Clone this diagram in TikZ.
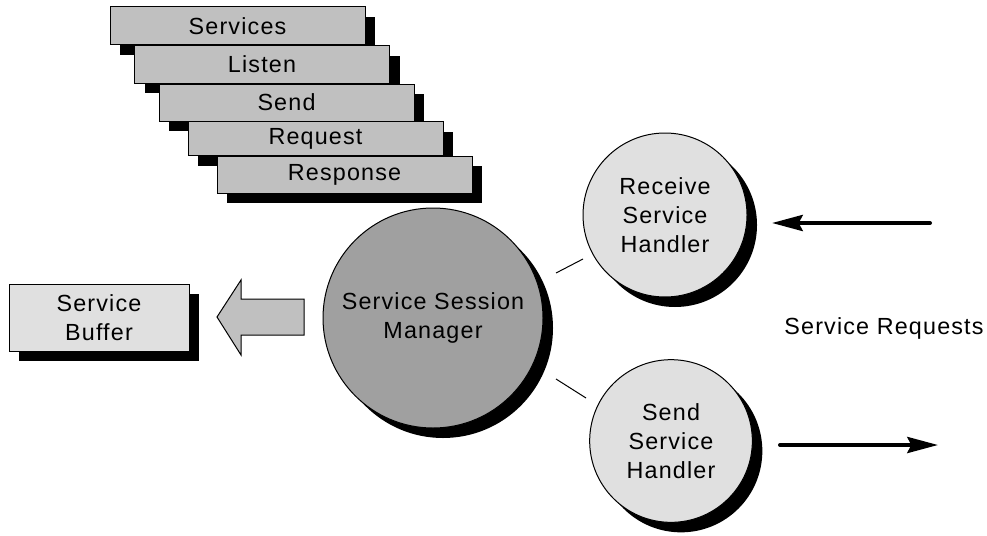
\documentclass[tikz,border=0pt]{standalone}
\usepackage{fontspec}
\setmainfont{Liberation Sans}[LetterSpace=5]
\usetikzlibrary{shadows,arrows.meta}
\definecolor{boxgray}{HTML}{C0C0C0}
\definecolor{lightgray2}{HTML}{E0E0E0}
\definecolor{darkgray2}{HTML}{A0A0A0}
\newcommand\dlabelfont{\fontsize{17.5}{21.75}\selectfont}
\begin{document}
\begin{tikzpicture}[x=0.75pt,y=-0.75pt,
  shad/.style={drop shadow={shadow xshift=7.5pt,shadow yshift=-7.5pt,fill=black,opacity=1}},
  stackbox/.style={draw=black,line width=0.75pt,fill=boxgray,shad,minimum width=191.25pt,minimum height=27.75pt,inner sep=0pt,font=\dlabelfont},
  bufbox/.style={draw=black,line width=0.75pt,fill=lightgray2,shad,minimum width=135pt,minimum height=50.25pt,inner sep=0pt,align=center,font=\dlabelfont},
  handler/.style={circle,draw=black,line width=0.75pt,fill=lightgray2,shad,inner sep=0pt,align=center,font=\dlabelfont},
  manager/.style={circle,draw=black,line width=0.75pt,fill=darkgray2,shad,inner sep=0pt,align=center,font=\dlabelfont,minimum size=165pt},
  thinline/.style={line width=0.75pt},
  flowarrow/.style={line width=3pt,line cap=round,-{Stealth[length=23pt,width=12pt,inset=3pt]}},
  bigarrow/.style={draw=black,line width=0.75pt,fill=boxgray}]
\useasboundingbox (0,0) rectangle (987,535);
% stacked boxes
\node[stackbox,minimum height=28.5pt] (services) at (237.5,26) {Services};
\node[stackbox] (listen) at (262,64.5) {Listen};
\node[stackbox] (send) at (286.5,102.5) {Send};
\node[stackbox,minimum height=25.5pt] (request) at (315.5,138.5) {Request};
\node[stackbox] (response) at (344.5,174.5) {Response};
% buffer
\node[bufbox] (buffer) at (99,317.5) {Service\\Buffer};
% big arrow
\draw[bigarrow] (304,299) -- (241,299) -- (241,280) -- (217,317) -- (241,355) -- (241,335) -- (304,335) -- cycle;
% circles
\node[manager] (ssm) at (433,318) {Service Session\\Manager};
\node[handler,minimum size=123pt] (rsh) at (665,215) {Receive\\Service\\Handler};
\node[handler,minimum size=122pt] (ssh) at (671,441) {Send\\Service\\Handler};
% thin connectors
\coordinate (c1a) at (556,273);
\coordinate (c1b) at (583,259);
\coordinate (c2a) at (556,379);
\coordinate (c2b) at (586,398);
\draw[thinline] (c1a) -- (c1b);
\draw[thinline] (c2a) -- (c2b);
% request arrows
\coordinate (ina) at (930,223);
\coordinate (inb) at (772,223);
\coordinate (outa) at (780,445);
\coordinate (outb) at (938,445);
\draw[flowarrow] (ina) -- (inb);
\draw[flowarrow] (outa) -- (outb);
\node[font=\dlabelfont] (req) at (884,328) {Service Requests};
\end{tikzpicture}
\end{document}
